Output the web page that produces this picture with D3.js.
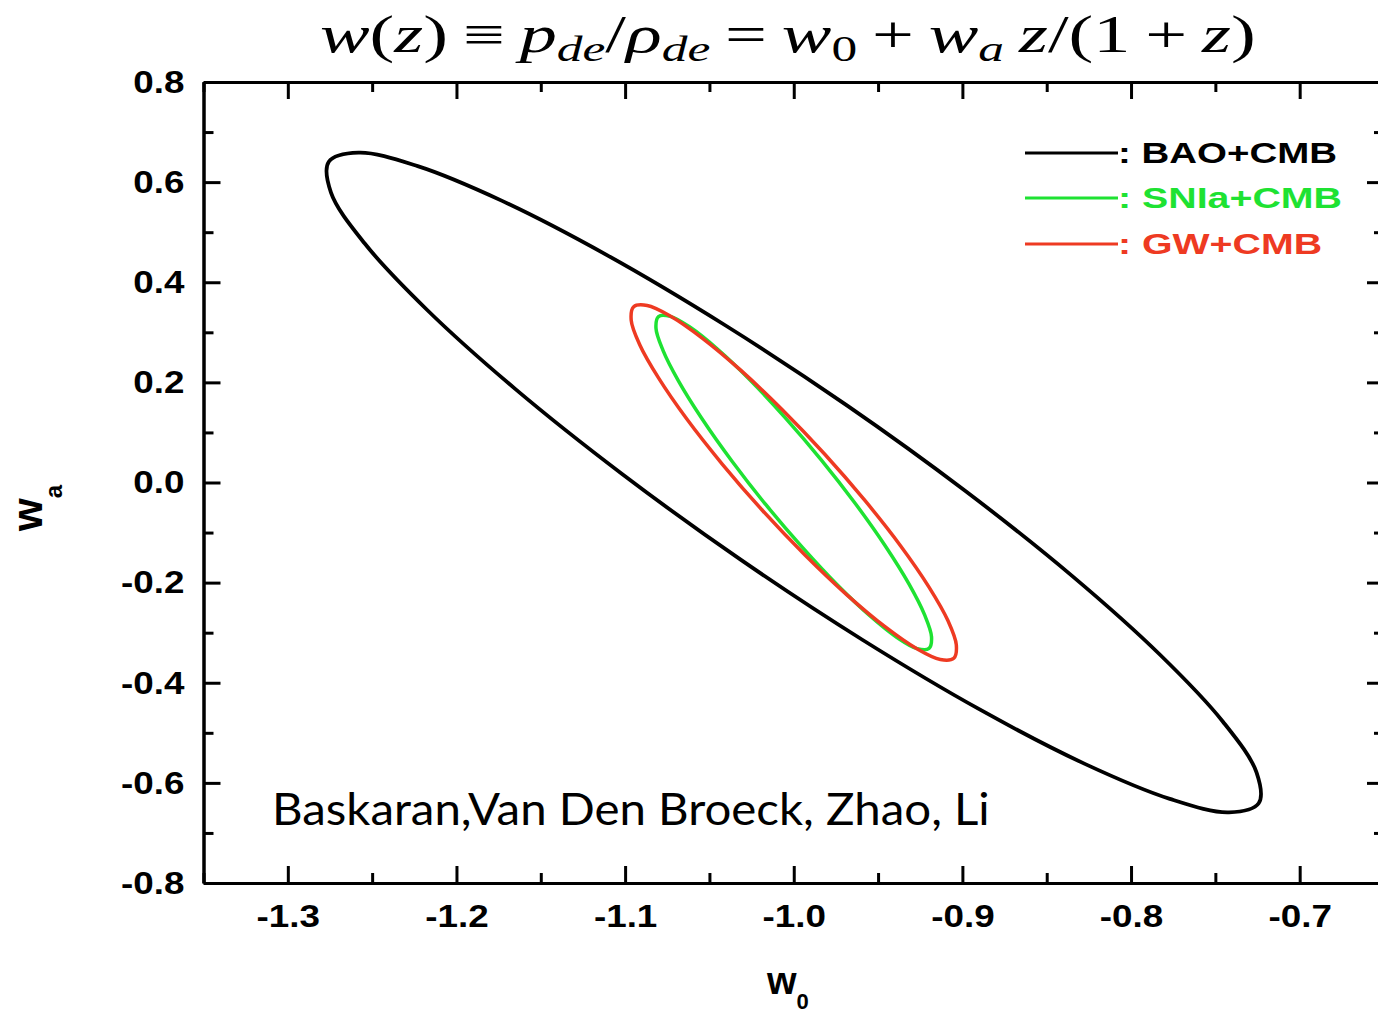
<!DOCTYPE html>
<html>
<head>
<meta charset="utf-8">
<script src="https://cdn.jsdelivr.net/npm/d3@7"></script>
<style>
	html, body { margin: 0; padding: 0; background: #fff; }
	svg { display: block; }
</style>
</head>
<body>
<svg id="chart" width="1378" height="1015"></svg>
<script>
// tick values and labels
var w0Major = [-1.3, -1.2, -1.1, -1.0, -0.9, -0.8, -0.7];
var w0Minor = [-1.35, -1.25, -1.15, -1.05, -0.95, -0.85, -0.75, -0.65];
var w0Labels = ['-1.3', '-1.2', '-1.1', '-1.0', '-0.9', '-0.8', '-0.7'];
var waMajor = [-0.8, -0.6, -0.4, -0.2, 0.0, 0.2, 0.4, 0.6, 0.8];
var waMinor = [-0.7, -0.5, -0.3, -0.1, 0.1, 0.3, 0.5, 0.7];
var waLabels = ['-0.8', '-0.6', '-0.4', '-0.2', '0.0', '0.2', '0.4', '0.6', '0.8'];

var seriesNames = ['BAO+CMB', 'SNIa+CMB', 'GW+CMB'];

// contour points [w0, wa]
var baoCmb = [
	[-0.7243, -0.6407], [-0.7419, -0.6588], [-0.7770, -0.6319], [-0.8274, -0.5620],
	[-0.8895, -0.4538], [-0.9591, -0.3146], [-1.0315, -0.1541], [-1.1018, 0.0170],
	[-1.1652, 0.1870], [-1.2172, 0.3441], [-1.2545, 0.4778], [-1.2744, 0.5790],
	[-1.2757, 0.6407], [-1.2581, 0.6588], [-1.2230, 0.6319], [-1.1726, 0.5620],
	[-1.1105, 0.4538], [-1.0409, 0.3146], [-0.9685, 0.1541], [-0.8982, -0.0170],
	[-0.8348, -0.1870], [-0.7828, -0.3441], [-0.7455, -0.4778], [-0.7256, -0.5790]
];
var snCmb = [
	[-0.9198, -0.3315], [-0.9268, -0.3318], [-0.9388, -0.3095], [-0.9549, -0.2661],
	[-0.9741, -0.2047], [-0.9950, -0.1292], [-1.0164, -0.0449], [-1.0366, 0.0424],
	[-1.0543, 0.1268], [-1.0683, 0.2026], [-1.0776, 0.2646], [-1.0817, 0.3085],
	[-1.0802, 0.3315], [-1.0732, 0.3318], [-1.0612, 0.3095], [-1.0451, 0.2661],
	[-1.0259, 0.2047], [-1.0050, 0.1292], [-0.9836, 0.0449], [-0.9634, -0.0424],
	[-0.9457, -0.1268], [-0.9317, -0.2026], [-0.9224, -0.2646], [-0.9183, -0.3085]
];
var gwCmb = [
	[-0.9051, -0.3511], [-0.9131, -0.3537], [-0.9270, -0.3322], [-0.9459, -0.2881],
	[-0.9685, -0.2244], [-0.9932, -0.1453], [-1.0184, -0.0564], [-1.0423, 0.0364],
	[-1.0634, 0.1267], [-1.0801, 0.2084], [-1.0914, 0.2758], [-1.0964, 0.3245],
	[-1.0949, 0.3511], [-1.0869, 0.3537], [-1.0730, 0.3322], [-1.0541, 0.2881],
	[-1.0315, 0.2244], [-1.0068, 0.1453], [-0.9816, 0.0564], [-0.9577, -0.0364],
	[-0.9366, -0.1267], [-0.9199, -0.2084], [-0.9086, -0.2758], [-0.9036, -0.3245]
];

+function(){
	var svg = d3.select('#chart');
	var left = 203.5, right = 1384, top = 82, bottom = 883;
	var colors = ['#000000', '#1ee232', '#ee3a22'];
	var widths = [3.8, 3.5, 3.5];
	var contours = [baoCmb, snCmb, gwCmb];

	var x = d3.scaleLinear().domain([-1.35, -0.65]).range([left, right]);
	var y = d3.scaleLinear().domain([-0.8, 0.8]).range([bottom, top]);

	// stretch text horizontally (the original glyphs are wider)
	function stretch(sel, k){
		sel.each(function(){
			var w = this.getComputedTextLength();
			d3.select(this).attr('textLength', w * k).attr('lengthAdjust', 'spacingAndGlyphs');
		});
	}
	// fit a whole text block into [x0, x0+width]
	function fit(node, x0, width){
		var b = node.getBBox();
		var k = width / b.width;
		d3.select(node).attr('transform', 'translate(' + x0 + ',0) scale(' + k + ',1) translate(' + (-b.x) + ',0)');
	}

	function styleAxis(g){
		g.select('.domain').attr('stroke', '#000').attr('stroke-width', 3);
		g.selectAll('.tick line').attr('stroke', '#000').attr('stroke-width', 3);
	}

	// minor ticks
	[[d3.axisBottom(x), 'translate(0,' + bottom + ')'],
	 [d3.axisTop(x), 'translate(0,' + top + ')']].forEach(function(a){
		svg.append('g').attr('transform', a[1])
			.call(a[0].tickValues(w0Minor).tickSizeInner(-10).tickSizeOuter(0).tickFormat(''))
			.call(styleAxis);
	});
	[[d3.axisLeft(y), 'translate(' + left + ',0)'],
	 [d3.axisRight(y), 'translate(' + right + ',0)']].forEach(function(a){
		svg.append('g').attr('transform', a[1])
			.call(a[0].tickValues(waMinor).tickSizeInner(-10).tickSizeOuter(0).tickFormat(''))
			.call(styleAxis);
	});

	// major ticks
	var xb = svg.append('g').attr('transform', 'translate(0,' + bottom + ')')
		.call(d3.axisBottom(x).tickValues(w0Major).tickSizeInner(-17).tickSizeOuter(0).tickPadding(21)
			.tickFormat(function(d, i){ return w0Labels[i]; }))
		.call(styleAxis);
	svg.append('g').attr('transform', 'translate(0,' + top + ')')
		.call(d3.axisTop(x).tickValues(w0Major).tickSizeInner(-17).tickSizeOuter(0).tickFormat(''))
		.call(styleAxis);
	var yl = svg.append('g').attr('transform', 'translate(' + left + ',0)')
		.call(d3.axisLeft(y).tickValues(waMajor).tickSizeInner(-17).tickSizeOuter(0).tickPadding(19)
			.tickFormat(function(d, i){ return waLabels[i]; }))
		.call(styleAxis);
	svg.append('g').attr('transform', 'translate(' + right + ',0)')
		.call(d3.axisRight(y).tickValues(waMajor).tickSizeInner(-17).tickSizeOuter(0).tickFormat(''))
		.call(styleAxis);

	[xb, yl].forEach(function(g){
		g.selectAll('text')
			.attr('font-family', 'Liberation Sans, Arial, sans-serif')
			.attr('font-weight', 'bold')
			.attr('font-size', 32)
			.attr('fill', '#000')
			.call(stretch, 1.15);
	});

	// contours
	var line = d3.line()
		.x(function(d){ return x(d[0]); })
		.y(function(d){ return y(d[1]); })
		.curve(d3.curveCatmullRomClosed.alpha(0.5));

	svg.append('g').selectAll('path')
		.data(contours)
		.enter()
		.append('path')
		.attr('d', line)
		.attr('fill', 'none')
		.attr('stroke', function(d, i){ return colors[i]; })
		.attr('stroke-width', function(d, i){ return widths[i]; });

	// legend
	var legendY = [153, 198, 244];
	var legendLen = [219, 224, 204];
	var lg = svg.append('g');
	seriesNames.forEach(function(name, i){
		lg.append('line')
			.attr('x1', 1025).attr('x2', 1118)
			.attr('y1', legendY[i]).attr('y2', legendY[i])
			.attr('stroke', colors[i]).attr('stroke-width', 3);
		lg.append('text')
			.attr('x', 1118).attr('y', legendY[i] + 10)
			.attr('font-family', 'Liberation Sans, Arial, sans-serif')
			.attr('font-weight', 'bold')
			.attr('font-size', 29)
			.attr('fill', colors[i])
			.attr('textLength', legendLen[i])
			.attr('lengthAdjust', 'spacingAndGlyphs')
			.text(': ' + name);
	});

	// title  w(z) = p_de/rho_de = w0 + wa z/(1+z)
	var title = svg.append('text')
		.attr('y', 52)
		.attr('font-family', 'Liberation Serif, Times New Roman, serif')
		.attr('font-size', 52)
		.attr('fill', '#000');
	var parts = [
		['w', 'i'], ['(', 'r'], ['z', 'i'], [')', 'r'], ['\u2009\u2261\u2009', 'r'],
		['p', 'i'], ['de', 's'], ['/', 'r'], ['\u03c1', 'i'], ['de', 's'], ['\u2009=\u2009', 'r'],
		['w', 'i'], ['0', 'S'], ['\u2009+\u2009', 'r'], ['w', 'i'], ['a', 's'], ['\u2009z', 'i'],
		['/(1\u2009+\u2009', 'r'], ['z', 'i'], [')', 'r']
	];
	var sub = false;
	parts.forEach(function(p){
		var t = title.append('tspan').text(p[0]);
		var isSub = (p[1] === 's' || p[1] === 'S');
		if(p[1] === 'i' || p[1] === 's'){
			t.attr('font-style', 'italic');
		}
		if(isSub){
			t.attr('font-size', 36);
		}
		if(isSub && !sub){
			t.attr('dy', 9);
		}else if(!isSub && sub){
			t.attr('dy', -9);
		}
		sub = isSub;
	});
	fit(title.node(), 320, 936);

	// authors
	var authors = svg.append('text')
		.attr('y', 825)
		.attr('font-family', 'Lato, Open Sans, sans-serif')
		.attr('font-size', 44)
		.attr('fill', '#000')
		.text('Baskaran,Van Den Broeck, Zhao, Li');
	fit(authors.node(), 272, 718);

	// axis titles
	var xt = svg.append('text')
		.attr('x', 767).attr('y', 994)
		.attr('font-family', 'Liberation Sans, Arial, sans-serif')
		.attr('font-weight', 'bold')
		.attr('font-size', 38)
		.attr('fill', '#000');
	xt.append('tspan').text('w');
	xt.append('tspan').attr('font-size', 22).attr('dy', 15).text('0');

	var ytl = svg.append('text')
		.attr('transform', 'translate(42,531) rotate(-90)')
		.attr('font-family', 'Liberation Sans, Arial, sans-serif')
		.attr('font-weight', 'bold')
		.attr('font-size', 42)
		.attr('fill', '#000');
	ytl.append('tspan').text('w');
	ytl.append('tspan').attr('font-size', 24).attr('dy', 20).text('a');
}();
</script>
</body>
</html>
